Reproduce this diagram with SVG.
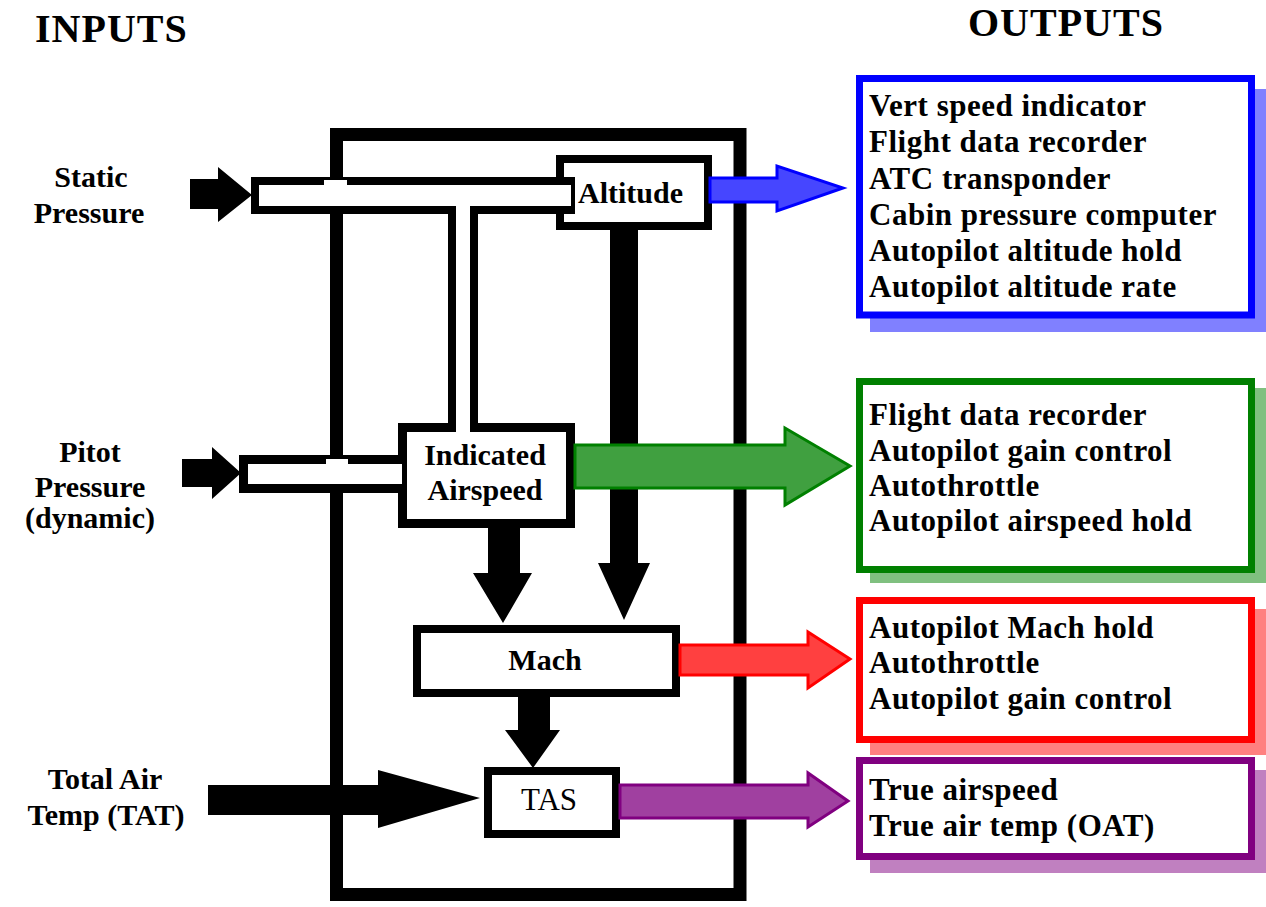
<svg xmlns="http://www.w3.org/2000/svg" width="1266" height="907" viewBox="0 0 1266 907">
<style>
text{font-family:"Liberation Serif","Times New Roman",serif;font-weight:bold;fill:#000}
.title{font-size:40px;letter-spacing:1px}
.lbl{font-size:30px;text-anchor:middle}
.out{font-size:31px;letter-spacing:0.5px}
.box{fill:#fff;stroke:#000;stroke-width:8}
.blk{fill:#000}
</style>
<rect width="1266" height="907" fill="#fff"/>
<text class="title" x="35" y="42">INPUTS</text>
<text class="title" x="968" y="36">OUTPUTS</text>

<g id="input-labels">
<text class="lbl" x="91" y="187">Static</text>
<text class="lbl" x="89" y="223">Pressure</text>
<text class="lbl" x="90" y="462">Pitot</text>
<text class="lbl" x="90" y="497">Pressure</text>
<text class="lbl" x="90" y="528">(dynamic)</text>
<text class="lbl" x="105" y="789">Total Air</text>
<text class="lbl" x="106" y="825">Temp (TAT)</text>
</g>

<g id="adc-box"><rect x="336.5" y="134.5" width="403.5" height="760" fill="none" stroke="#000" stroke-width="13"/></g>

<g id="altitude"><rect class="box" x="560" y="159" width="148" height="67"/><text x="578" y="203" style="font-size:30px">Altitude</text></g>
<g id="indicated-airspeed"><rect class="box" x="402.5" y="427.5" width="168" height="96" style="stroke-width:9"/><text class="lbl" x="485" y="465">Indicated</text><text class="lbl" x="485" y="500">Airspeed</text></g>
<g id="mach"><rect class="box" x="417" y="629" width="259" height="64"/><text class="lbl" x="545" y="670">Mach</text></g>
<g id="tas"><rect class="box" x="488" y="771" width="128" height="63"/><text class="lbl" x="549" y="810" style="font-weight:normal;font-size:31px">TAS</text></g>

<g id="connectors">
<rect class="blk" x="251" y="177" width="324" height="37"/>
<rect class="blk" x="448" y="177" width="30" height="250"/>
<rect fill="#fff" x="259" y="185" width="312" height="21"/>
<rect fill="#fff" x="456" y="185" width="14" height="247"/>
<rect fill="#fff" x="324" y="180" width="23" height="5"/>
<rect class="blk" x="239" y="455" width="163" height="38"/>
<rect fill="#fff" x="248" y="464" width="154" height="20"/>
<rect fill="#fff" x="326" y="459" width="22" height="5"/>
<polygon class="blk" points="190,179 218,179 218,167 252,195 218,222 218,209 190,209"/>
<polygon class="blk" points="182,459 212,459 212,447 241,473 212,499 212,487 182,487"/>
<polygon class="blk" points="208,785 378,785 378,770 480,798 378,828 378,815 208,815"/>
<polygon class="blk" points="610,226 638,226 638,563 650,563 624,620 598,563 610,563"/>
<polygon class="blk" points="488,528 520,528 520,573 532,573 503,623 473,573 488,573"/>
<polygon class="blk" points="518,697 550,697 550,730 560,730 533,768 505,730 518,730"/>
<polygon points="710,178 777,178 777,166 843,188 777,211 777,202 710,202" fill="#4646ff" stroke="#0000ff" stroke-width="3"/>
<polygon points="575,445 785,445 785,428 850,466 785,505 785,488 575,488" fill="#40a040" stroke="#008000" stroke-width="3"/>
<polygon points="680,645 808,645 808,632 850,659 808,688 808,675 680,675" fill="#ff4040" stroke="#ff0000" stroke-width="3"/>
<polygon points="620,785 808,785 808,773 848,801 808,827 808,818 620,818" fill="#a040a0" stroke="#800080" stroke-width="3"/>
</g>

<g id="out-altitude">
<rect x="870" y="89" width="399" height="243" fill="#8080ff"/>
<rect x="859.5" y="78.5" width="392" height="236.5" fill="#fff" stroke="#0000ff" stroke-width="7"/>
<text class="out" x="869" y="116">Vert speed indicator</text>
<text class="out" x="869" y="152">Flight data recorder</text>
<text class="out" x="869" y="189">ATC transponder</text>
<text class="out" x="869" y="225">Cabin pressure computer</text>
<text class="out" x="869" y="261">Autopilot altitude hold</text>
<text class="out" x="869" y="297">Autopilot altitude rate</text>
</g>
<g id="out-airspeed">
<rect x="870" y="388" width="399" height="195" fill="#80c080"/>
<rect x="859.5" y="381.5" width="392" height="188" fill="#fff" stroke="#008000" stroke-width="7"/>
<text class="out" x="869" y="425">Flight data recorder</text>
<text class="out" x="869" y="461">Autopilot gain control</text>
<text class="out" x="869" y="496">Autothrottle</text>
<text class="out" x="869" y="531">Autopilot airspeed hold</text>
</g>
<g id="out-mach">
<rect x="870" y="609" width="399" height="146" fill="#ff8080"/>
<rect x="859.5" y="600.5" width="392" height="139" fill="#fff" stroke="#ff0000" stroke-width="7"/>
<text class="out" x="869" y="638">Autopilot Mach hold</text>
<text class="out" x="869" y="673">Autothrottle</text>
<text class="out" x="869" y="709">Autopilot gain control</text>
</g>
<g id="out-tas">
<rect x="870" y="770" width="399" height="103" fill="#c080c0"/>
<rect x="859.5" y="760.5" width="392" height="96" fill="#fff" stroke="#800080" stroke-width="7"/>
<text class="out" x="869" y="800">True airspeed</text>
<text class="out" x="869" y="836">True air temp (OAT)</text>
</g>
</svg>
